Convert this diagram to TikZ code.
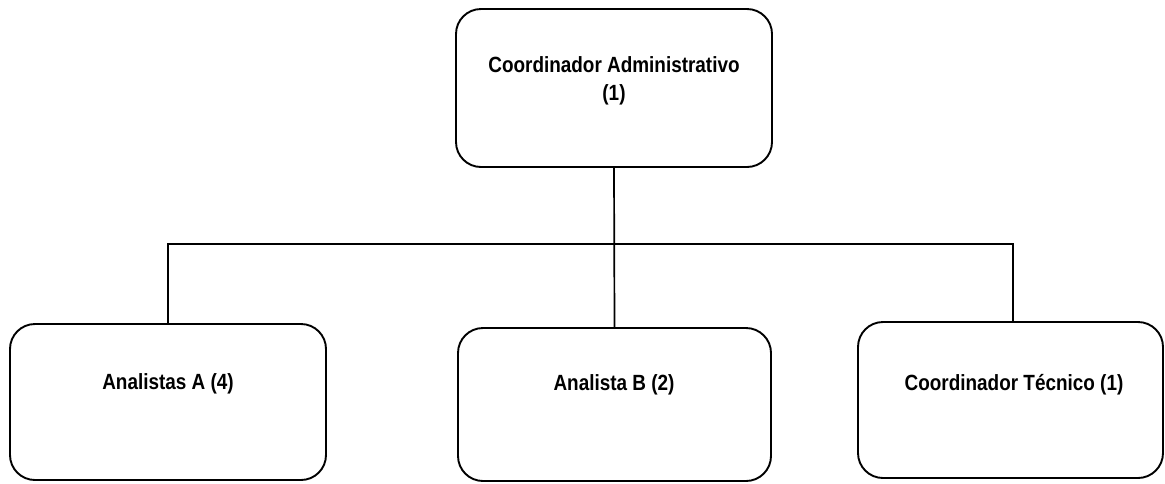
\documentclass[tikz,border=0pt]{standalone}
\usepackage{fontspec}
\setmainfont{Liberation Sans}[FakeStretch=0.86]
\begin{document}
\begin{tikzpicture}[x=1pt,y=-1pt,
  box/.style={draw=black, line width=1.9pt, rounded corners=25pt, inner sep=0pt},
  lbl/.style={font=\bfseries\fontsize{22}{28.5}\selectfont, align=center, inner sep=0pt},
  link/.style={draw=black, line width=1.7pt}]
  \useasboundingbox (0,0) rectangle (1165,483);
  % boxes
  \node[box, minimum width=316pt, minimum height=158pt] (top) at (614,88) {};
  \node[box, minimum width=316pt, minimum height=156pt] (a) at (168,402) {};
  \node[box, minimum width=313pt, minimum height=153pt] (b) at (614.5,404.5) {};
  \node[box, minimum width=305pt, minimum height=156pt] (c) at (1010.5,400) {};
  % labels
  \node[lbl] (ttop) at (614,81) {Coordinador Administrativo\\(1)};
  \node[lbl] (ta) at (168,384) {Analistas A (4)};
  \node[lbl] (tb) at (614,385) {Analista B (2)};
  \node[lbl] (tc) at (1014,385) {Coordinador Técnico (1)};
  % connectors
  \coordinate (bus) at (614,244);
  \coordinate (cn) at ([xshift=2.5pt]c.north);
  \draw[link] (top.south) -- (b.north);
  \draw[link] (a.north) |- (bus) -| (cn);
\end{tikzpicture}
\end{document}
